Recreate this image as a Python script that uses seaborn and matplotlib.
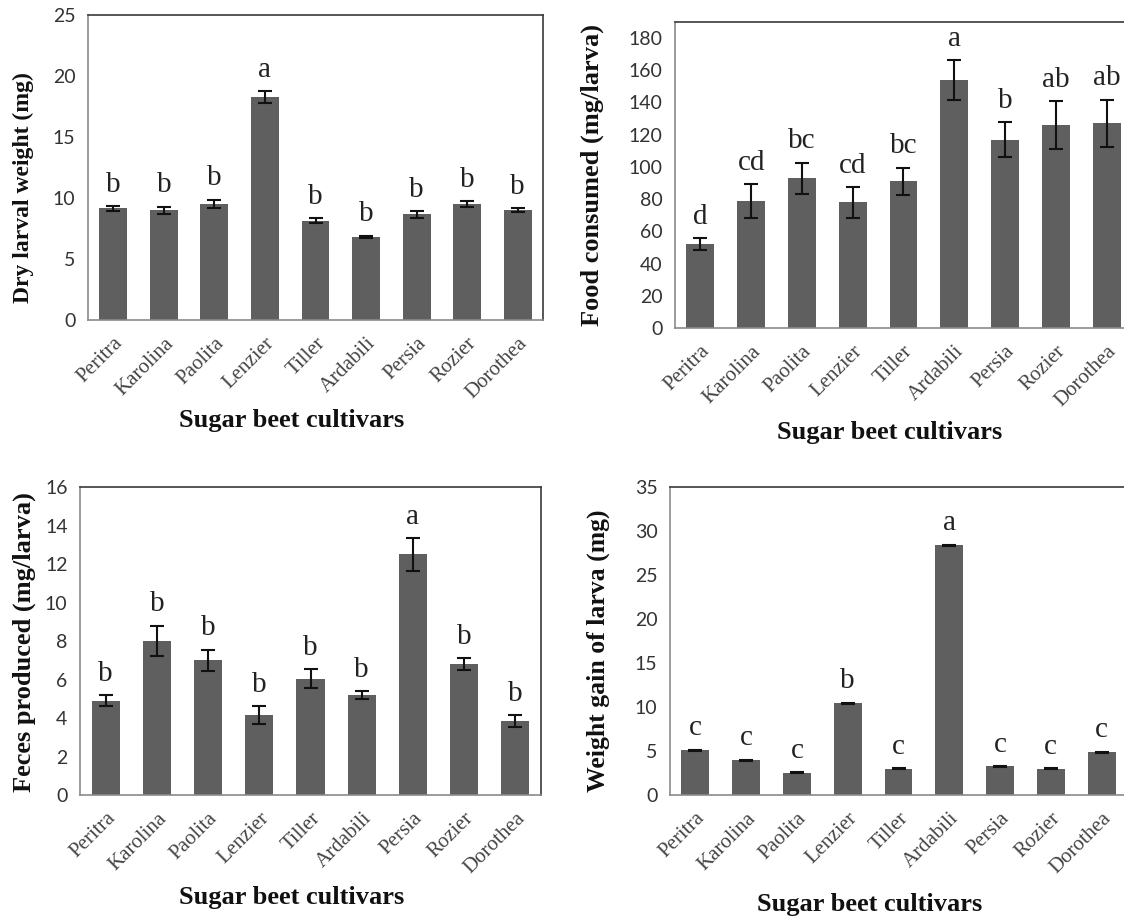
import numpy as np
import pandas as pd
import matplotlib
matplotlib.use("Agg")
import matplotlib.pyplot as plt
import matplotlib.transforms as mtransforms
import seaborn as sns

# Cultivars on the x axis
cultivars = ["Peritra", "Karolina", "Paolita", "Lenzier", "Tiller",
             "Ardabili", "Persia", "Rozier", "Dorothea"]

# Dry larval weight (mg): means, standard errors and group letters
dry_weight = [9.15, 9.0, 9.5, 18.25, 8.15, 6.8, 8.65, 9.5, 9.0]
dry_weight_se = [0.2, 0.3, 0.35, 0.5, 0.2, 0.12, 0.25, 0.25, 0.15]
dry_weight_letters = ["b", "b", "b", "a", "b", "b", "b", "b", "b"]

# Food consumed (mg/larva)
food = [52, 79, 93, 78, 91, 154, 117, 126, 127]
food_se = [3.8, 10.5, 9.7, 9.6, 8.6, 12.2, 10.9, 14.8, 14.8]
food_letters = ["d", "cd", "bc", "cd", "bc", "a", "b", "ab", "ab"]

# Feces produced (mg/larva)
feces = [4.9, 8.0, 7.0, 4.15, 6.05, 5.2, 12.5, 6.8, 3.85]
feces_se = [0.3, 0.8, 0.55, 0.48, 0.5, 0.2, 0.85, 0.3, 0.3]
feces_letters = ["b", "b", "b", "b", "b", "b", "a", "b", "b"]

# Weight gain of larva (mg)
gain = [5.1, 3.95, 2.55, 10.45, 3.0, 28.4, 3.25, 3.0, 4.85]
gain_se = [0.06, 0.06, 0.06, 0.06, 0.06, 0.06, 0.06, 0.06, 0.06]
gain_letters = ["c", "c", "c", "b", "c", "a", "c", "c", "c"]

sns.set_style("white")
plt.rcParams["font.family"] = ["Liberation Serif", "DejaVu Serif"]

BAR = "#5f5f5f"
SERIF = "Liberation Serif"
SANS = "Lato"

fig = plt.figure(figsize=(11.24, 9.19), dpi=100)

panels = [
    dict(rect=[0.0783, 0.6518, 0.4048, 0.3319], vals=dry_weight, se=dry_weight_se,
         letters=dry_weight_letters, ylim=25, step=5, ticks_x=False, ylab_size=17,
         ylabel="Dry larval weight (mg)", ylab_xy=(-0.141, 0.433), xlab_xy=(0.448, -0.33)),
    dict(rect=[0.6005, 0.6431, 0.4066, 0.3330], vals=food, se=food_se,
         letters=food_letters, ylim=190, step=20, ymax_tick=180, ticks_x=False, ylab_size=19,
         ylabel="Food consumed (mg/larva)", ylab_xy=(-0.18, 0.50), xlab_xy=(0.47, -0.34)),
    dict(rect=[0.0712, 0.1349, 0.4101, 0.3351], vals=feces, se=feces_se,
         letters=feces_letters, ylim=16, step=2, ticks_x=True, ylab_size=19,
         ylabel="Feces produced (mg/larva)", ylab_xy=(-0.121, 0.497), xlab_xy=(0.46, -0.334)),
    dict(rect=[0.5961, 0.1349, 0.4066, 0.3351], vals=gain, se=gain_se,
         letters=gain_letters, ylim=35, step=5, ticks_x=True, ylab_size=18.5,
         ylabel="Weight gain of larva (mg)", ylab_xy=(-0.158, 0.47), xlab_xy=(0.437, -0.357)),
]

# shift rotated category names slightly right so their ends sit past the bar centres
label_shift = mtransforms.ScaledTranslation(6 / 100, 0, fig.dpi_scale_trans)

for p in panels:
    ax = fig.add_axes(p["rect"])
    df = pd.DataFrame({"cultivar": cultivars, "value": p["vals"]})
    sns.barplot(data=df, x="cultivar", y="value", color=BAR, saturation=1,
                width=0.55, errorbar=None, ax=ax, edgecolor="none")
    x = np.arange(len(cultivars))
    vals = np.array(p["vals"])
    se = np.array(p["se"])
    ax.errorbar(x, vals, yerr=se, fmt="none", ecolor="#111111",
                elinewidth=1.5, capsize=5, capthick=1.5)
    for xi, top, lab in zip(x, vals + se, p["letters"]):
        ax.annotate(lab, (xi, top), xytext=(0, 6), textcoords="offset points",
                    ha="center", va="bottom", fontsize=21, family=SERIF,
                    color="#222222")

    ax.set_xlim(-0.5, len(cultivars) - 0.5)
    ax.set_ylim(0, p["ylim"])
    top_tick = p.get("ymax_tick", p["ylim"])
    yt = np.arange(0, top_tick + 0.001, p["step"])
    ax.set_yticks(yt)
    ax.set_yticklabels([f"{int(v)}" for v in yt], family=SANS, fontsize=14,
                       color="#333333")
    ax.tick_params(axis="y", length=0, pad=9)

    ax.set_xticks(x)
    ax.set_xticklabels(cultivars, rotation=45, ha="right", va="top",
                       rotation_mode="anchor", family=SERIF, fontsize=15,
                       color="#444444")
    for t in ax.get_xticklabels():
        t.set_transform(t.get_transform() + label_shift)
    ax.tick_params(axis="x", which="major", length=0, pad=10)
    if p["ticks_x"]:
        ax.set_xticks(np.arange(-0.5, len(cultivars)), minor=True)
        ax.tick_params(axis="x", which="minor", length=6, width=1,
                       color="#888888", direction="out")

    ax.set_ylabel(p["ylabel"], family=SERIF, fontweight="bold",
                  fontsize=p["ylab_size"], color="#111111")
    ax.set_xlabel("Sugar beet cultivars", family=SERIF, fontweight="bold",
                  fontsize=19, color="#111111")
    ax.yaxis.set_label_coords(*p["ylab_xy"])
    ax.xaxis.set_label_coords(*p["xlab_xy"])
    ax.yaxis.label.set_va("center")
    ax.xaxis.label.set_va("center")

    for side in ["left", "bottom"]:
        ax.spines[side].set_color("#8a8a8a")
        ax.spines[side].set_linewidth(1.2)
    for side in ["top", "right"]:
        ax.spines[side].set_color("#3a3a3a")
        ax.spines[side].set_linewidth(1.2)
    ax.grid(False)

fig.savefig("out.png", dpi=100)
